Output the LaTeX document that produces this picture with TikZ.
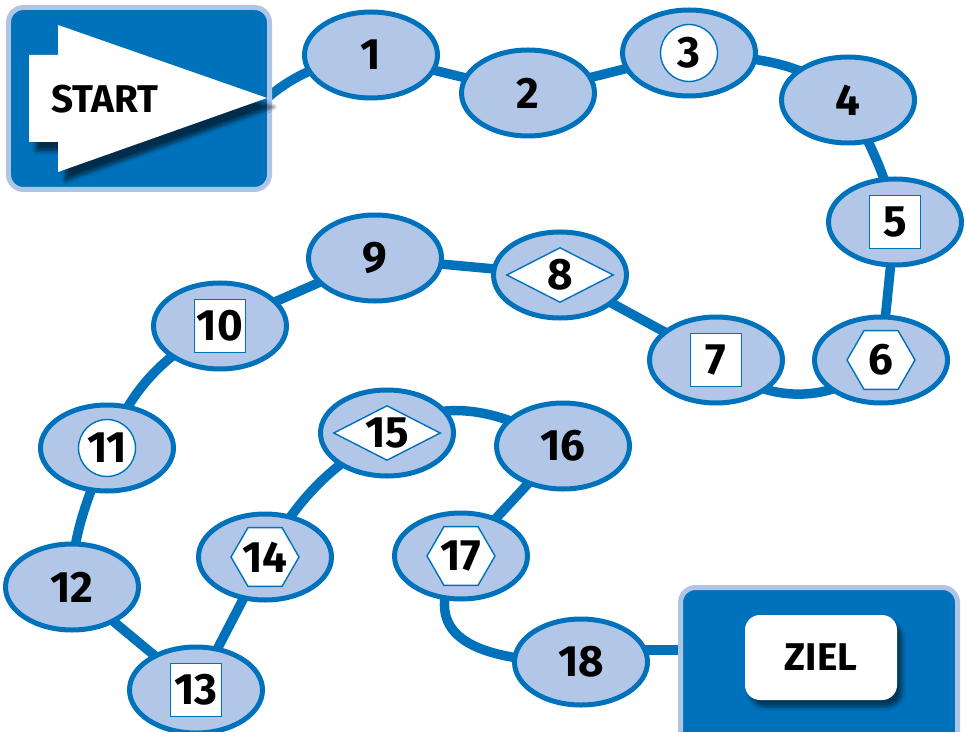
\documentclass[tikz,border=0pt]{standalone}
\usepackage{fontspec}
\setmainfont{Fira Sans}
\usetikzlibrary{positioning, shapes.geometric, backgrounds, calc, shadows.blur}
\definecolor{feldrand}{RGB}{0,114,188}
\definecolor{feldfuell}{RGB}{178,199,231}
\definecolor{kastenrand}{RGB}{176,196,230}

\begin{document}
\begin{tikzpicture}[x=0.2mm, y=0.2mm, font=\bfseries\fontsize{25}{27}\selectfont,
        feld/.style={ellipse, draw=feldrand, fill=feldfuell, line width=1mm,
                     minimum width=26.6mm, minimum height=17.2mm, inner sep=0pt},
        marke/.style={draw=feldrand, fill=white, line width=0.8pt, inner sep=0pt},
        leer/.style={inner sep=0pt},
        kreis/.style={marke, circle, minimum size=11.4mm},
        quadrat/.style={marke, rectangle, minimum width=10.2mm, minimum height=10.6mm},
        sechseck/.style={marke, regular polygon, regular polygon sides=6, minimum size=13.6mm},
        raute/.style={marke, diamond, minimum width=21.4mm, minimum height=11mm},
        weg/.style={draw=feldrand, line width=1.9mm},
        kasten/.style={rectangle, rounded corners=3mm, draw=kastenrand, fill=feldrand, line width=1mm},
        schrift/.style={font=\bfseries\fontsize{22}{24}\selectfont}
    ]
        \useasboundingbox (0,0) rectangle (966,731);
        \clip (0,0) rectangle (966,731);

        % Start
        \node[kasten, minimum width=52.2mm, minimum height=36.4mm] (startbox) at (139,632.5) {};
        \fill[white, blur shadow={shadow xshift=1.4mm, shadow yshift=-1.8mm, shadow opacity=60, shadow blur steps=10}]
            (29,676) -- (58,676) -- (58,706) -- (267,633) -- (58,559) -- (58,589) -- (29,589) -- cycle;
        \node[schrift] (starttext) at (105,632) {START};
        \coordinate (starttip) at (267,633);

        % Ziel
        \node[kasten, minimum width=55.4mm, minimum height=36.7mm] (zielbox) at (819,51.75) {};
        \node[schrift, rectangle, rounded corners=3mm, fill=white, minimum width=30.4mm, minimum height=17mm,
              blur shadow={shadow xshift=1mm, shadow yshift=-1.4mm, shadow opacity=50, shadow blur steps=8}]
            (ziel) at (821,73.5) {ZIEL};

        % Felder
        \foreach \n/\x/\y/\form in {1/371/676/leer, 2/528/638/leer, 3/689/678/kreis, 4/848/631/leer,
                5/895/509/quadrat, 6/881/371/sechseck, 7/716/371/quadrat, 8/560/456/raute,
                9/375/473/leer, 10/220/405/quadrat, 11/107/283/kreis, 12/72/144/leer,
                13/196/41/quadrat, 14/265/174/sechseck, 15/387/298/raute, 16/563/285/leer,
                17/461/175/sechseck, 18/581/69/leer} {
            \node[feld] (n\n) at (\x,\y) {};
            \node[\form] at (n\n) {};
            \node at (n\n) {\n};
        }

        \begin{pgfonlayer}{background}
            \draw[weg] (starttip) to[out=40, in=190] (n1.center);
            \draw[weg] (n1.center) -- (n2.center);
            \draw[weg] (n2.center) -- (n3.center);
            \draw[weg] (n3.center) to[out=-5, in=140] (n4.center);
            \draw[weg] (n4.center) to[out=-65, in=100] (n5.center);
            \draw[weg] (n5.center) -- (n6.center);
            \draw[weg] (n7.center) to[out=-45, in=-135] (n6.center);
            \draw[weg] (n7.center) -- (n8.center);
            \draw[weg] (n8.center) -- (n9.center);
            \draw[weg] (n9.center) -- (n10.center);
            \draw[weg] (n10.center) to[bend right=20] (n11.center);
            \draw[weg] (n11.center) to[out=-110, in=90] (n12.center);
            \draw[weg] (n12.center) -- (n13.center);
            \draw[weg] (n13.center) -- (n14.center);
            \draw[weg] (n14.center) to[bend left=15] (n15.center);
            \draw[weg] (n15.center) to[out=35, in=150] (n16.center);
            \draw[weg] (n16.center) -- (n17.center);
            \draw[weg] (n17.center) to[out=-120, in=180, out distance=12.6mm, in distance=30.2mm] (n18.center);
            \draw[weg] ($(n18.center)+(0,12)$) -- ($(n18.center -| zielbox.center)+(0,12)$);
        \end{pgfonlayer}
    \end{tikzpicture}
\end{document}
